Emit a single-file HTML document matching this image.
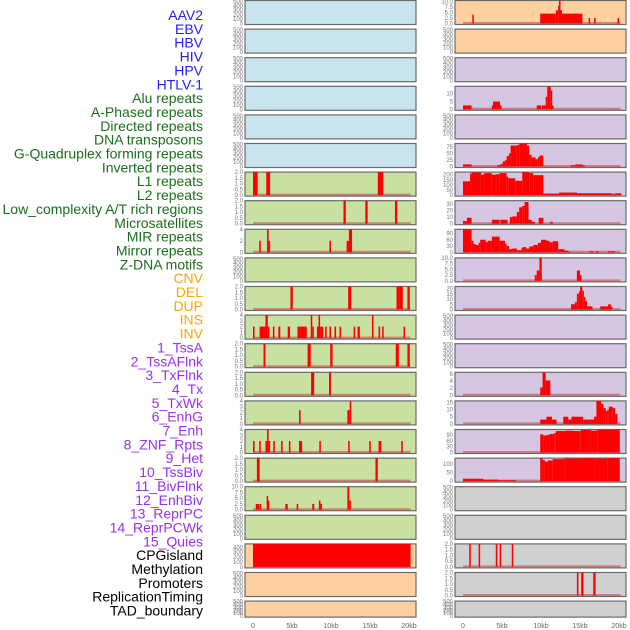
<!DOCTYPE html>
<html><head><meta charset="utf-8"><style>
html,body{margin:0;padding:0;background:#fff;width:630px;height:630px;overflow:hidden}
svg{display:block;font-family:"Liberation Sans",sans-serif}
</style></head><body>
<svg id="chart" width="630" height="630" viewBox="0 0 630 630" xmlns="http://www.w3.org/2000/svg"></svg>
<script>
const trackLabels=["AAV2","EBV","HBV","HIV","HPV","HTLV-1","Alu repeats","A-Phased repeats","Directed repeats","DNA transposons","G-Quadruplex forming repeats","Inverted repeats","L1 repeats","L2 repeats","Low_complexity A/T rich regions","Microsatellites","MIR repeats","Mirror repeats","Z-DNA motifs","CNV","DEL","DUP","INS","INV","1_TssA","2_TssAFlnk","3_TxFlnk","4_Tx","5_TxWk","6_EnhG","7_Enh","8_ZNF_Rpts","9_Het","10_TssBiv","11_BivFlnk","12_EnhBiv","13_ReprPC","14_ReprPCWk","15_Quies","CPGisland","Methylation","Promoters","ReplicationTiming","TAD_boundary"];
const labelGroups=[6,13,5,15,5];
const xTickValues=[0,5,10,15,20];
const xTickLabels=["0","5kb","10kb","15kb","20kb"];
const colorsLeft=["b","b","b","b","b","b","g","g","g","g","g","g","g","g","g","g","g","g","g","o","o","o"];
const colorsRight=["o","o","p","p","p","p","p","p","p","p","p","p","p","p","p","p","p","y","y","y","y","y"];
const E=["0","100","200","300","400","500"];
const T2=["0.0","0.5","1.0","1.5","2.0"];
const T10=["0.0","2.5","5.0","7.5","10.0"];
const T4=["0","1","2","3","4"];
const yMaxLeft=[520,520,520,520,520,520,2,2,4,520,2,4,2,2,4,4,2,10,520,470,520,520];
const yTicksLeft=[E,E,E,E,E,E,T2,T2,["0","2","4"],E,T2,T4,T2,T2,T4,T4,T2,T10,E,["0","100","200","300","400"],E,E];
const yMaxRight=[10.5,520,520,14.7,520,88,225,35,110,10,22,520,520,6.5,16,118,136,520,520,2,2,520];
const yTicksRight=[T10,E,E,["0","5","10"],E,["0","25","50","75"],["0","50","100","150","200"],["0","10","20","30"],["0","30","60","90"],T10,["0","5","10","15","20"],E,E,["0","2","4","6"],["0","5","10","15"],["0","30","60","90"],["0","50","100"],E,E,T2,T2,E];
const barsLeft=[[],[],[],[],[],[],
[[0,0.6,2],[1.7,2.2,2],[16,16.7,2]],
[[11.6,11.9,2],[14.4,14.7,2],[18.2,18.5,2]],
[[0.8,1.0,2],[1.8,2.0,4],[2.0,2.2,2],[9.8,10.0,2],[12.0,12.3,2],[12.3,12.7,4]],
[],
[[4.8,5.1,2],[12.2,12.6,2],[18.4,18.8,2],[18.8,19.2,2],[19.8,20.1,2]],
[[0,0.2,2],[0.85,1.6,2],[1.6,1.9,4],[1.9,2.1,2],[2.55,2.75,2],[3.25,3.5,2],[4.45,4.75,2],[5.7,6.9,2],[7.4,7.6,4],[7.6,7.8,2],[8.2,8.4,2],[8.4,8.6,4],[8.6,9.0,2],[9.25,9.45,2],[9.8,10.0,2],[10.45,10.65,2],[11.1,11.3,2],[12.9,13.1,2],[13.4,13.7,2],[15.25,15.45,4],[16.1,16.3,2],[16.55,16.75,2],[19.3,19.5,2]],
[[1.35,1.6,2],[7.0,7.4,2],[9.9,10.2,2],[18.3,18.7,2],[19.8,20.1,2]],
[[7.45,7.85,2],[9.75,10.0,2]],
[[5.9,6.1,2.4],[12.1,12.4,2.4],[12.4,12.6,4]],
[[0,0.2,2],[0.8,1.0,2],[1.6,1.8,2],[1.8,2.0,4],[2.0,2.2,2],[2.6,2.8,2],[3.6,3.8,2],[4.6,4.8,2],[5.9,6.3,2],[8.5,8.7,2],[12.2,12.4,2],[14.9,15.1,2],[16.1,16.45,2],[19.0,19.2,2]],
[[0.5,0.85,2],[15.7,16.0,2]],
[[0.35,0.8,2.5],[0.85,1.0,2.5],[1.75,1.9,6],[1.9,2.05,4],[4.15,4.45,2.5],[5.6,5.8,2.5],[7.6,7.85,2.5],[8.45,8.65,4],[8.65,8.85,2.5],[12.1,12.35,10],[12.35,12.55,4]],
[],
[[0,20.2,470]],
[],[]];
const barsRight=[
[[1.2,1.4,4],[9.9,11.9,4.5],[11.9,12.2,6],[12.2,12.3,8],[12.3,12.5,10.5],[12.5,12.6,6],[12.6,15.3,4.5],[16.1,16.3,2.5],[16.8,17.0,2.5],[19.8,20.0,2.5]],
[],[],
[[0,1.1,2.5],[3.7,3.85,2.5],[3.85,4.75,5],[4.75,4.9,2.5],[9.45,10.0,2.5],[10.1,10.6,2.5],[10.6,10.8,8],[10.8,11.25,14.5],[11.25,11.4,12],[11.4,11.6,2.5]],
[],
[[0,1.1,8],[4.4,4.8,5],[4.8,5.1,10],[5.1,5.4,20],[5.4,5.6,25],[5.6,5.9,40],[5.9,6.1,50],[6.1,6.9,80],[6.9,7.2,82],[7.2,8.2,88],[8.2,8.5,80],[8.5,8.8,45],[8.8,9.3,35],[9.3,9.6,28],[9.6,9.8,35],[9.8,10.3,42],[13.8,14.4,5],[14.4,15.3,8],[15.3,15.6,5]],
[[0,0.9,135],[0.9,1.1,210],[1.1,2.3,222],[2.3,2.7,200],[2.7,3.7,215],[3.7,4.3,200],[4.3,4.7,205],[4.7,5.6,215],[5.6,5.8,180],[5.8,6.7,165],[6.7,7.6,140],[7.6,8.5,225],[8.5,9.0,215],[9.0,10.3,195],[10.3,12.3,15],[12.3,14.6,25],[14.6,15.3,18],[15.3,19.1,18],[19.1,19.5,10],[19.5,20.3,18]],
[[0,0.5,4],[0.5,1.1,9],[3.7,4.7,6],[4.8,5.7,6],[6.0,6.3,10],[6.3,6.9,11],[6.9,7.2,18],[7.2,7.6,25],[7.6,7.9,27],[7.9,8.4,33],[8.4,8.8,6],[8.8,9.2,3],[9.7,10.3,9],[11.2,11.5,3]],
[[0,1.1,110],[1.1,1.35,55],[1.35,1.6,40],[1.6,2.0,35],[2.0,2.2,45],[2.2,2.9,60],[2.9,3.2,50],[3.2,3.7,55],[3.7,4.7,75],[4.7,5.4,55],[5.4,5.6,40],[5.6,5.9,30],[5.9,6.3,15],[6.3,6.9,18],[6.9,7.5,10],[7.5,7.7,22],[7.7,8.1,25],[8.1,8.5,18],[8.5,9.0,28],[9.0,9.6,35],[9.6,10.0,45],[10.0,10.7,60],[10.7,11.1,55],[11.1,11.5,48],[11.5,12.2,53],[12.2,13.0,15],[13.0,13.5,8],[13.5,13.7,3],[16.2,16.7,5],[17.0,17.4,5],[18.6,19.5,5]],
[[9.2,9.45,2.5],[9.45,9.8,4.5],[9.8,10.1,10],[14.6,15.0,4.5],[15.0,15.2,2.5]],
[[13.85,14.35,5],[14.35,14.6,7],[14.6,14.85,15],[14.85,15.0,17],[15.0,15.3,22],[15.3,15.5,18],[15.5,15.65,12],[15.65,15.9,8],[15.9,16.6,3],[17.6,18.6,3],[18.6,18.95,5],[18.95,19.15,3]],
[],[],
[[9.9,10.2,2.2],[10.2,10.6,6.5],[10.6,11.2,4.2]],
[[9.9,10.7,3],[10.7,11.4,5],[11.4,12.0,3],[12.86,13.5,5],[13.5,13.9,3],[13.9,15.4,5],[15.4,16.8,3],[16.8,17.1,5],[17.1,17.7,16],[17.7,18.0,14],[18.0,18.3,11],[18.3,18.5,9],[18.5,18.7,10],[18.7,19.2,12],[19.2,19.5,11],[19.5,19.8,7]],
[[9.9,10.3,93],[10.3,10.7,88],[10.7,11.1,90],[11.1,11.7,95],[11.7,11.9,100],[11.9,13.2,110],[13.2,14.1,112],[14.1,15.1,110],[15.1,16.4,116],[16.4,17.2,112],[17.2,20.1,118]],
[[0,2.6,14],[2.6,4.6,9],[4.6,6.8,5],[9.9,10.2,136],[10.2,10.5,125],[10.5,10.9,115],[10.9,11.5,122],[11.5,13.0,130],[13.0,15.0,134],[15.0,17.0,136],[17.0,18.5,134],[18.5,20.1,136]],
[],[],
[[0.8,1.0,2],[2.0,2.2,2],[4.2,4.4,2],[4.7,4.9,2],[6.25,6.45,2]],
[[14.6,14.8,2],[15.15,15.45,2],[16.7,17.0,2]],
[]];

const NS="http://www.w3.org/2000/svg";
const svg=document.getElementById("chart");
const fills={b:"#c8e4ec",g:"#c8e0a2",o:"#fed0a0",p:"#d6c6e2",y:"#d0d0d0"};
const labelColors=["#2222ee","#1b6e1b","#ffa500","#9b30e8","#000000"];
function mk(tag,attrs){const e=document.createElementNS(NS,tag);for(const k in attrs)e.setAttribute(k,attrs[k]);svg.appendChild(e);return e;}
function rowTop(i){return i*28.6+0.5;}
function rowH(i){return i===21?16:24;}
function xScale(colX,kb){return colX+8+kb*7.8;}
function yScale(i,v,max){const t=rowTop(i),h=rowH(i);return t+h-1-(Math.min(v,max)/max)*(h-1);}

let li=0;
labelGroups.forEach((n,g)=>{for(let k=0;k<n;k++){const t=mk("text",{x:203,y:15+li*13.85+5,"text-anchor":"end","font-size":"14",fill:labelColors[g]});t.textContent=trackLabels[li];


li++;}});

function drawColumn(colX,colors,yMax,yTicks,bars,side){
 for(let i=0;i<22;i++){
  const t=rowTop(i),h=rowH(i);
  const r=mk("rect",{x:colX,y:t,width:171,height:h,fill:fills[colors[i]],stroke:"#6a6a6a","stroke-width":"1.2"});
  
  
  if(bars[i].length){
   const base=mk("line",{x1:xScale(colX,0),x2:xScale(colX,20.2),y1:t+h-1.5,y2:t+h-1.5,stroke:"rgba(200,60,60,0.55)","stroke-width":"2"});
   
   
  }
  bars[i].forEach(b=>{const x1=xScale(colX,b[0]),x2=xScale(colX,b[1]);const y=yScale(i,b[2],yMax[i]);
   const br=mk("rect",{x:x1,y:y,width:Math.max(1.5,x2-x1),height:t+h-1-y,fill:"#ff0000"});
   
   });
  const ticks=yTicks[i];const maxTick=parseFloat(ticks[ticks.length-1]);
  const step=maxTick/(ticks.length-1);
  ticks.forEach((lab,k)=>{const v=k*step;const y=yScale(i,v,yMax[i]);
   const tx=mk("text",{x:colX-2,y:y+2,"text-anchor":"end","font-size":"6",fill:"#777"});tx.textContent=lab;
   
   });
 }
 xTickValues.forEach((v,k)=>{const tx=mk("text",{x:xScale(colX,v),y:628,"text-anchor":"middle","font-size":"7",fill:"#666"});tx.textContent=xTickLabels[k];
  
  });
}
drawColumn(245,colorsLeft,yMaxLeft,yTicksLeft,barsLeft,'left');
drawColumn(455,colorsRight,yMaxRight,yTicksRight,barsRight,'right');
</script>
</body></html>
